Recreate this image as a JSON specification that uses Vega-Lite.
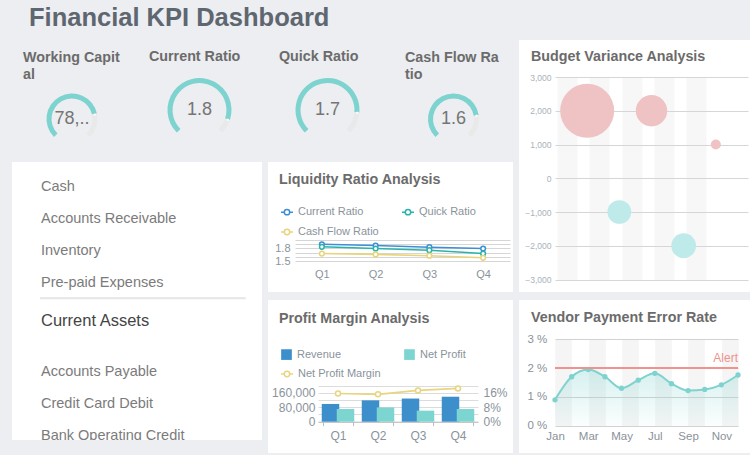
{
  "$schema": "https://vega.github.io/schema/vega-lite/v6.json",
  "background": "#eceef1",
  "padding": {"left": 12, "top": 6, "right": 0, "bottom": 2},
  "title": {"text": "Financial KPI Dashboard", "anchor": "start", "frame": "bounds", "dx": 17, "offset": 8.5, "fontSize": 25.5, "fontWeight": "bold", "color": "#5e6670", "font": "Liberation Sans"},
  "config": {
    "font": "Liberation Sans",
    "view": {"fill": "white", "stroke": null, "strokeWidth": 0},
    "axis": {"labelFont": "Liberation Sans", "titleFont": "Liberation Sans"},
    "legend": {"labelFont": "Liberation Sans"}
  },
  "spacing": 6,
  "resolve": {"scale": {"stroke": "independent", "fill": "independent", "size": "independent", "theta": "independent"}},
  "hconcat": [
    {
      "spacing": 9,
      "resolve": {"scale": {"stroke": "independent", "fill": "independent", "size": "independent", "theta": "independent"}},
      "vconcat": [
        {
          "spacing": 6,
          "resolve": {"scale": {"theta": "independent"}},
          "hconcat": [
            {
              "spacing": 0,
              "vconcat": [
                {"width": 120, "height": 45, "title": {"text": ["Working Capit", "al"], "anchor": "start", "frame": "group", "dx": 11, "offset": -42, "lineHeight": 17, "fontSize": 14.3, "fontWeight": "bold", "color": "#6b6b6b"}, "data": {"values": []}, "mark": "rect", "encoding": {}},
                {"width": 120, "height": 68, "data": {"values": [{"metric": "Working Capital", "value": 78450, "max": 100000}]},
                  "layer": [
                    {"mark": {"type": "arc", "innerRadius": 20.5, "outerRadius": 25.5, "color": "#e9e9e9"}, "encoding": {"theta": {"field": "max", "type": "quantitative", "scale": {"domain": [0, 100000], "range": [-2.356, 2.356]}}}},
                    {"mark": {"type": "arc", "innerRadius": 20.5, "outerRadius": 25.5, "color": "#7dd3cf"}, "encoding": {"theta": {"field": "value", "type": "quantitative", "scale": {"domain": [0, 100000], "range": [-2.356, 2.356]}}}},
                    {"mark": {"type": "text", "text": "●", "radius": 23, "fontSize": 5, "color": "white"}, "encoding": {"theta": {"field": "value", "type": "quantitative", "stack": null, "scale": {"domain": [0, 100000], "range": [-2.356, 2.356]}}}},
                    {"mark": {"type": "text", "fontSize": 18, "color": "#757575", "limit": 40, "ellipsis": ".."}, "encoding": {"text": {"field": "value", "type": "quantitative", "format": ","}}}
                  ]}
              ]
            },
            {
              "spacing": 0,
              "vconcat": [
                {"width": 123, "height": 27, "title": {"text": "Current Ratio", "anchor": "start", "frame": "group", "dx": 11, "offset": -24, "fontSize": 14.3, "fontWeight": "bold", "color": "#6b6b6b"}, "data": {"values": []}, "mark": "rect", "encoding": {}},
                {"width": 123, "height": 86, "data": {"values": [{"metric": "Current Ratio", "value": 1.8, "max": 2}]},
                  "layer": [
                    {"mark": {"type": "arc", "innerRadius": 27, "outerRadius": 32, "color": "#e9e9e9"}, "encoding": {"theta": {"field": "max", "type": "quantitative", "scale": {"domain": [0, 2], "range": [-2.356, 2.356]}}}},
                    {"mark": {"type": "arc", "innerRadius": 27, "outerRadius": 32, "color": "#7dd3cf"}, "encoding": {"theta": {"field": "value", "type": "quantitative", "scale": {"domain": [0, 2], "range": [-2.356, 2.356]}}}},
                    {"mark": {"type": "text", "text": "●", "radius": 29.5, "fontSize": 5, "color": "white"}, "encoding": {"theta": {"field": "value", "type": "quantitative", "stack": null, "scale": {"domain": [0, 2], "range": [-2.356, 2.356]}}}},
                    {"mark": {"type": "text", "fontSize": 18, "color": "#757575"}, "encoding": {"text": {"field": "value", "type": "quantitative", "format": ".1f"}}}
                  ]}
              ]
            },
            {
              "spacing": 0,
              "vconcat": [
                {"width": 121, "height": 27, "title": {"text": "Quick Ratio", "anchor": "start", "frame": "group", "dx": 12, "offset": -24, "fontSize": 14.3, "fontWeight": "bold", "color": "#6b6b6b"}, "data": {"values": []}, "mark": "rect", "encoding": {}},
                {"width": 121, "height": 86, "data": {"values": [{"metric": "Quick Ratio", "value": 1.7, "max": 2}]},
                  "layer": [
                    {"mark": {"type": "arc", "innerRadius": 27, "outerRadius": 32, "color": "#e9e9e9"}, "encoding": {"theta": {"field": "max", "type": "quantitative", "scale": {"domain": [0, 2], "range": [-2.356, 2.356]}}}},
                    {"mark": {"type": "arc", "innerRadius": 27, "outerRadius": 32, "color": "#7dd3cf"}, "encoding": {"theta": {"field": "value", "type": "quantitative", "scale": {"domain": [0, 2], "range": [-2.356, 2.356]}}}},
                    {"mark": {"type": "text", "text": "●", "radius": 29.5, "fontSize": 5, "color": "white"}, "encoding": {"theta": {"field": "value", "type": "quantitative", "stack": null, "scale": {"domain": [0, 2], "range": [-2.356, 2.356]}}}},
                    {"mark": {"type": "text", "fontSize": 18, "color": "#757575"}, "encoding": {"text": {"field": "value", "type": "quantitative", "format": ".1f"}}}
                  ]}
              ]
            },
            {
              "spacing": 0,
              "vconcat": [
                {"width": 119, "height": 45, "title": {"text": ["Cash Flow Ra", "tio"], "anchor": "start", "frame": "group", "dx": 11, "offset": -42, "lineHeight": 17, "fontSize": 14.3, "fontWeight": "bold", "color": "#6b6b6b"}, "data": {"values": []}, "mark": "rect", "encoding": {}},
                {"width": 119, "height": 68, "data": {"values": [{"metric": "Cash Flow Ratio", "value": 1.6, "max": 2}]},
                  "layer": [
                    {"mark": {"type": "arc", "innerRadius": 20.5, "outerRadius": 25.5, "color": "#e9e9e9"}, "encoding": {"theta": {"field": "max", "type": "quantitative", "scale": {"domain": [0, 2], "range": [-2.356, 2.356]}}}},
                    {"mark": {"type": "arc", "innerRadius": 20.5, "outerRadius": 25.5, "color": "#7dd3cf"}, "encoding": {"theta": {"field": "value", "type": "quantitative", "scale": {"domain": [0, 2], "range": [-2.356, 2.356]}}}},
                    {"mark": {"type": "text", "text": "●", "radius": 23, "fontSize": 5, "color": "white"}, "encoding": {"theta": {"field": "value", "type": "quantitative", "stack": null, "scale": {"domain": [0, 2], "range": [-2.356, 2.356]}}}},
                    {"mark": {"type": "text", "fontSize": 18, "color": "#757575"}, "encoding": {"text": {"field": "value", "type": "quantitative", "format": ".1f"}}}
                  ]}
              ]
            }
          ]
        },
        {
          "spacing": 6,
          "resolve": {"scale": {"stroke": "independent", "fill": "independent"}},
          "hconcat": [
            {
              "spacing": 0,
              "vconcat": [
                {
                  "width": 250, "height": 278,
                  "data": {"values": [
                    {"item": "Cash", "role": "account", "section": "assets"},
                    {"item": "Accounts Receivable", "role": "account", "section": "assets"},
                    {"item": "Inventory", "role": "account", "section": "assets"},
                    {"item": "Pre-paid Expenses", "role": "account", "section": "assets"},
                    {"item": "Current Assets", "role": "total", "section": "assets"},
                    {"item": "Accounts Payable", "role": "account", "section": "liabilities"},
                    {"item": "Credit Card Debit", "role": "account", "section": "liabilities"},
                    {"item": "Bank Operating Credit", "role": "account", "section": "liabilities"}
                  ]},
                  "encoding": {
                    "y": {"field": "item", "type": "nominal", "sort": null, "scale": {"type": "point", "padding": 0, "domain": ["Cash", "Accounts Receivable", "Inventory", "Pre-paid Expenses", "Current Assets", " ", "Accounts Payable", "Credit Card Debit", "Bank Operating Credit"], "range": [25.3, 281.3]}, "axis": null},
                    "x": {"datum": 0, "type": "quantitative", "scale": {"domain": [0, 1], "range": [28, 233.7]}, "axis": null}
                  },
                  "layer": [
                    {"transform": [{"filter": "datum.section == 'assets' && datum.role == 'account'"}], "mark": {"type": "text", "align": "left", "dx": 1, "fontSize": 14.5, "color": "#7b7b7b"}, "encoding": {"text": {"field": "item", "type": "nominal"}}},
                    {"transform": [{"filter": "datum.role == 'total'"}], "mark": {"type": "text", "align": "left", "dx": 1, "dy": 5.7, "fontSize": 16.5, "color": "#444444"}, "encoding": {"text": {"field": "item", "type": "nominal"}}},
                    {"transform": [{"filter": "datum.section == 'liabilities'"}], "mark": {"type": "text", "align": "left", "dx": 1, "dy": -7.3, "fontSize": 14.5, "color": "#7b7b7b", "clip": true}, "encoding": {"text": {"field": "item", "type": "nominal"}}},
                    {"data": {"values": [{"divider": "Current Assets"}]}, "mark": {"type": "rule", "color": "#e5e5e5", "strokeWidth": 2, "yOffset": 15}, "encoding": {"y": {"datum": "Pre-paid Expenses", "type": "nominal"}, "x": {"datum": 0, "type": "quantitative"}, "x2": {"datum": 1}}}
                  ]
                },
                {"width": 250, "height": 13, "data": {"values": []}, "mark": "rect", "encoding": {}}
              ]
            },
            {
              "spacing": 8,
              "resolve": {"scale": {"stroke": "independent", "fill": "independent"}},
              "vconcat": [
                {
                  "width": 245, "height": 130,
                  "title": {"text": "Liquidity Ratio Analysis", "anchor": "start", "frame": "group", "dx": 11, "offset": -25.5, "fontSize": 14.3, "fontWeight": "bold", "color": "#6b6b6b"},
                  "data": {"values": [
                    {"quarter": "Q1", "ratio": "Current Ratio", "value": 1.9},
                    {"quarter": "Q2", "ratio": "Current Ratio", "value": 1.87},
                    {"quarter": "Q3", "ratio": "Current Ratio", "value": 1.83},
                    {"quarter": "Q4", "ratio": "Current Ratio", "value": 1.8},
                    {"quarter": "Q1", "ratio": "Quick Ratio", "value": 1.84},
                    {"quarter": "Q2", "ratio": "Quick Ratio", "value": 1.8},
                    {"quarter": "Q3", "ratio": "Quick Ratio", "value": 1.76},
                    {"quarter": "Q4", "ratio": "Quick Ratio", "value": 1.68},
                    {"quarter": "Q1", "ratio": "Cash Flow Ratio", "value": 1.68},
                    {"quarter": "Q2", "ratio": "Cash Flow Ratio", "value": 1.66},
                    {"quarter": "Q3", "ratio": "Cash Flow Ratio", "value": 1.63},
                    {"quarter": "Q4", "ratio": "Cash Flow Ratio", "value": 1.58}
                  ]},
                  "encoding": {
                    "x": {"field": "quarter", "type": "ordinal", "scale": {"type": "point", "padding": 0.5, "range": [27, 242]}, "axis": {"title": null, "orient": "bottom", "offset": -30.8, "labelAngle": 0, "ticks": false, "tickSize": 0, "domain": false, "labelPadding": 7, "labelFontSize": 11, "labelColor": "#8a939b", "grid": false}},
                    "y": {"field": "value", "type": "quantitative", "scale": {"domain": [1.5, 2.0], "range": [99.2, 78], "zero": false}, "axis": {"title": null, "offset": -27, "values": [1.5, 1.6, 1.7, 1.8, 1.9, 2.0], "labelExpr": "datum.value == 1.5 || datum.value == 1.8 ? format(datum.value, '.1f') : ''", "ticks": false, "tickSize": 0, "domain": false, "labelPadding": 5, "labelFontSize": 11, "labelColor": "#8a939b", "gridColor": "#d6d6d6"}},
                    "stroke": {"field": "ratio", "type": "nominal", "scale": {"domain": ["Current Ratio", "Quick Ratio", "Cash Flow Ratio"], "range": ["#3d8ed8", "#2ab3ab", "#e8d47c"]}, "legend": {"title": null, "orient": "none", "legendX": 12, "legendY": 43, "direction": "horizontal", "columns": 2, "columnPadding": 20, "rowPadding": 7, "padding": 0, "symbolType": "M-1,0L-0.45,0M0.45,0L1,0M0.45,0A0.45,0.45,0,1,1,-0.45,0A0.45,0.45,0,1,1,0.45,0", "symbolSize": 144, "symbolStrokeWidth": 1.5, "symbolFillColor": "white", "labelFontSize": 11, "labelColor": "#8a939b", "labelOffset": 4}}
                  },
                  "layer": [
                    {"mark": {"type": "line", "strokeWidth": 1.6}},
                    {"mark": {"type": "point", "fill": "white", "size": 22, "strokeWidth": 1.5, "opacity": 1}}
                  ]
                },
                {
                  "width": 245, "height": 153,
                  "title": {"text": "Profit Margin Analysis", "anchor": "start", "frame": "group", "dx": 11, "offset": -26, "fontSize": 14.3, "fontWeight": "bold", "color": "#6b6b6b"},
                  "encoding": {
                    "x": {"field": "quarter", "type": "nominal", "scale": {"type": "band", "range": [50, 210], "paddingInner": 0.25, "paddingOuter": 0.125}, "axis": {"title": null, "orient": "bottom", "offset": -31.3, "labelAngle": 0, "domainColor": "#bdbdbd", "tickColor": "#bdbdbd", "tickBand": "extent", "tickSize": 4, "labelPadding": 5, "labelFontSize": 12, "labelColor": "#8a939b", "grid": false}}
                  },
                  "layer": [
                    {
                      "data": {"values": [
                        {"quarter": "Q1", "measure": "Revenue", "amount": 98000},
                        {"quarter": "Q1", "measure": "Net Profit", "amount": 70000},
                        {"quarter": "Q2", "measure": "Revenue", "amount": 118000},
                        {"quarter": "Q2", "measure": "Net Profit", "amount": 79000},
                        {"quarter": "Q3", "measure": "Revenue", "amount": 128000},
                        {"quarter": "Q3", "measure": "Net Profit", "amount": 61000},
                        {"quarter": "Q4", "measure": "Revenue", "amount": 138000},
                        {"quarter": "Q4", "measure": "Net Profit", "amount": 70000}
                      ]},
                      "mark": {"type": "bar", "width": 17.5},
                      "encoding": {
                        "xOffset": {"field": "measure", "type": "nominal", "scale": {"domain": ["Revenue", "Net Profit"]}},
                        "y": {"field": "amount", "type": "quantitative", "stack": null, "scale": {"domain": [0, 200000], "range": [121.7, 85.5]}, "axis": {"title": null, "orient": "left", "offset": -50, "values": [0, 40000, 80000, 120000, 160000, 200000], "labelExpr": "datum.value == 0 || datum.value == 80000 || datum.value == 160000 ? format(datum.value, ',') : ''", "ticks": false, "tickSize": 0, "domain": false, "labelPadding": 3, "labelFontSize": 12, "labelColor": "#8a939b", "gridColor": "#dcdcdc"}},
                        "fill": {"field": "measure", "type": "nominal", "scale": {"domain": ["Revenue", "Net Profit"], "range": ["#3d8fcc", "#7dd5d1"]}, "legend": {"title": null, "orient": "none", "legendX": 12, "legendY": 48, "direction": "horizontal", "columns": 2, "columnPadding": 61, "padding": 0, "symbolType": "square", "symbolSize": 114, "labelFontSize": 11, "labelColor": "#8a939b", "labelOffset": 4}}
                      }
                    },
                    {
                      "data": {"values": [
                        {"quarter": "Q1", "margin": 0.156},
                        {"quarter": "Q2", "margin": 0.151},
                        {"quarter": "Q3", "margin": 0.173},
                        {"quarter": "Q4", "margin": 0.184}
                      ]},
                      "encoding": {
                        "y": {"field": "margin", "type": "quantitative", "scale": {"domain": [0, 0.2], "range": [121.7, 85.5]}, "axis": {"title": null, "orient": "right", "offset": -35, "values": [0, 0.04, 0.08, 0.12, 0.16, 0.2], "labelExpr": "datum.value == 0 || datum.value == 0.08 || datum.value == 0.16 ? format(datum.value, '.0%') : ''", "ticks": false, "tickSize": 0, "domain": false, "grid": false, "labelPadding": 5, "labelFontSize": 12, "labelColor": "#8a939b"}},
                        "stroke": {"datum": "Net Profit Margin", "type": "nominal", "scale": {"domain": ["Net Profit Margin"], "range": ["#e8d580"]}, "legend": {"title": null, "orient": "none", "legendX": 12, "legendY": 67, "padding": 0, "symbolType": "M-1,0L-0.45,0M0.45,0L1,0M0.45,0A0.45,0.45,0,1,1,-0.45,0A0.45,0.45,0,1,1,0.45,0", "symbolSize": 144, "symbolStrokeWidth": 1.5, "symbolFillColor": "white", "labelFontSize": 11, "labelColor": "#8a939b", "labelOffset": 4}}
                      },
                      "layer": [
                        {"mark": {"type": "line", "strokeWidth": 1.6}},
                        {"mark": {"type": "point", "fill": "white", "size": 25, "strokeWidth": 1.5, "opacity": 1}}
                      ]
                    }
                  ],
                  "resolve": {"scale": {"y": "independent"}}
                }
              ]
            }
          ]
        }
      ]
    },
    {
      "spacing": 8,
      "vconcat": [
        {
          "width": 231, "height": 252,
          "title": {"text": "Budget Variance Analysis", "anchor": "start", "frame": "group", "dx": 12, "offset": -24.2, "fontSize": 14.3, "fontWeight": "bold", "color": "#6b6b6b"},
          "data": {"values": [
            {"item": "Item 1", "variance": 2000, "budget": 29000},
            {"item": "Item 2", "variance": -1000, "budget": 5600},
            {"item": "Item 3", "variance": 2000, "budget": 9800},
            {"item": "Item 4", "variance": -2000, "budget": 6100},
            {"item": "Item 5", "variance": 1000, "budget": 1000}
          ]},
          "mark": {"type": "circle", "opacity": 1},
          "encoding": {
            "x": {"field": "item", "type": "nominal", "sort": null, "scale": {"type": "point", "padding": 1, "range": [36, 229]}, "axis": {"title": null, "orient": "top", "labels": false, "ticks": false, "domain": false, "grid": true, "gridColor": "#f7f7f7", "gridWidth": 20, "tickOffset": -20}},
            "y": {"field": "variance", "type": "quantitative", "scale": {"domain": [-3000, 3000], "range": [239.5, 37]}, "axis": {"title": null, "offset": -36, "values": [-3000, -2000, -1000, 0, 1000, 2000, 3000], "labelExpr": "format(datum.value, ',')", "domain": false, "ticks": false, "tickSize": 0, "labelPadding": 4, "labelFontSize": 8.5, "labelColor": "#a9b2ba", "gridColor": "#d6d6d6"}},
            "size": {"field": "budget", "type": "quantitative", "scale": {"domain": [0, 29000], "range": [0, 2916]}, "legend": null},
            "color": {"condition": {"test": "datum.variance > 0", "value": "#efc3c3"}, "value": "#bfeaea"}
          }
        },
        {
          "width": 231, "height": 153,
          "title": {"text": "Vendor Payment Error Rate", "anchor": "start", "frame": "group", "dx": 12, "offset": -25.7, "fontSize": 14.3, "fontWeight": "bold", "color": "#6b6b6b"},
          "data": {"values": [
            {"month": "Jan", "rate": 0.9},
            {"month": "Feb", "rate": 1.7},
            {"month": "Mar", "rate": 1.95},
            {"month": "Apr", "rate": 1.7},
            {"month": "May", "rate": 1.3},
            {"month": "Jun", "rate": 1.58},
            {"month": "Jul", "rate": 1.82},
            {"month": "Aug", "rate": 1.46},
            {"month": "Sep", "rate": 1.22},
            {"month": "Oct", "rate": 1.26},
            {"month": "Nov", "rate": 1.42},
            {"month": "Dec", "rate": 1.76}
          ]},
          "encoding": {
            "x": {"field": "month", "type": "ordinal", "sort": null, "scale": {"type": "point", "padding": 0, "domain": ["Jan", "Feb", "Mar", "Apr", "May", "Jun", "Jul", "Aug", "Sep", "Oct", "Nov", "Dec"], "range": [36, 219]}, "axis": {"title": null, "orient": "bottom", "offset": -27.3, "values": ["Jan", "Mar", "May", "Jul", "Sep", "Nov"], "labelAngle": 0, "ticks": false, "tickSize": 0, "domain": false, "labelPadding": 5, "labelFontSize": 11.5, "labelColor": "#8a9299", "grid": false}},
            "y": {"field": "rate", "type": "quantitative", "scale": {"domain": [0, 3], "range": [125.7, 39.3]}, "axis": {"title": null, "offset": -36, "values": [0, 1, 2, 3], "labelExpr": "datum.value + ' %'", "labelAlign": "left", "labelPadding": 28, "ticks": false, "tickSize": 0, "domain": false, "labelFontSize": 11.5, "labelColor": "#8a9299", "gridColor": "#d2d2d2"}}
          },
          "layer": [
            {"mark": {"type": "area", "interpolate": "monotone", "fill": {"gradient": "linear", "x1": 0, "y1": 0, "x2": 0, "y2": 1, "stops": [{"offset": 0, "color": "rgba(126,211,207,0.32)"}, {"offset": 1, "color": "rgba(126,211,207,0.03)"}]}},
             "encoding": {"x": {"field": "month", "type": "ordinal", "sort": null, "scale": {"type": "point", "padding": 0, "domain": ["Jan", "Feb", "Mar", "Apr", "May", "Jun", "Jul", "Aug", "Sep", "Oct", "Nov", "Dec"], "range": [36, 219]}, "axis": {"title": null, "orient": "top", "values": ["Jan", "Mar", "May", "Jul", "Sep", "Nov"], "labels": false, "ticks": false, "domain": false, "grid": true, "gridColor": "#f5f5f5", "gridWidth": 16.6, "tickOffset": 8.3}}}},
            {"mark": {"type": "line", "interpolate": "monotone", "color": "#7fd3cf", "strokeWidth": 2}},
            {"mark": {"type": "circle", "color": "#7fd3cf", "size": 28, "opacity": 1},
             "encoding": {"x": {"field": "month", "type": "ordinal", "sort": null, "scale": {"type": "point", "padding": 0, "domain": ["Jan", "Feb", "Mar", "Apr", "May", "Jun", "Jul", "Aug", "Sep", "Oct", "Nov", "Dec"], "range": [36, 219]}, "axis": null}}},
            {"data": {"values": [{"label": "Alert", "threshold": 2}]}, "mark": {"type": "rule", "color": "#f2928d", "strokeWidth": 2}, "encoding": {"y": {"field": "threshold", "type": "quantitative", "axis": {"title": null}}, "x": {"datum": "Jan", "type": "ordinal", "axis": null}, "x2": {"datum": "Dec"}}},
            {"data": {"values": [{"label": "Alert", "threshold": 2}]}, "mark": {"type": "text", "align": "right", "baseline": "bottom", "dy": -3, "color": "#f2928d", "fontSize": 12}, "encoding": {"y": {"field": "threshold", "type": "quantitative", "axis": {"title": null}}, "x": {"datum": "Dec", "type": "ordinal", "axis": null}, "text": {"field": "label", "type": "nominal"}}}
          ]
        }
      ]
    }
  ]
}
